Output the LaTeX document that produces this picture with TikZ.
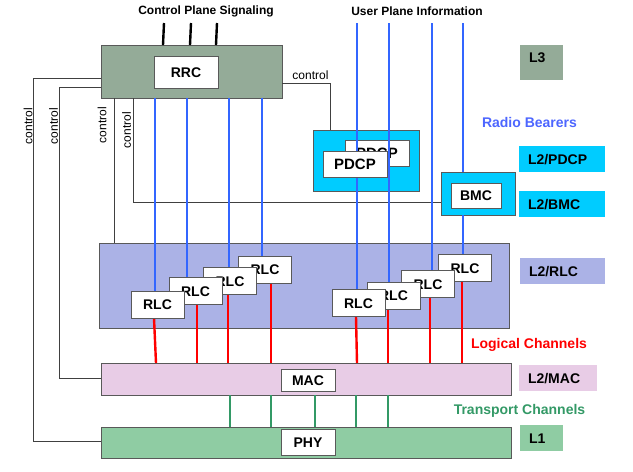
\documentclass[tikz,border=0pt]{standalone}
\usepackage{fontspec}
\setmainfont{Liberation Sans}
\definecolor{rrcg}{RGB}{148,171,152}
\definecolor{pcyan}{RGB}{0,204,255}
\definecolor{rlcc}{RGB}{171,178,230}
\definecolor{macc}{RGB}{232,204,230}
\definecolor{phyc}{RGB}{143,204,163}
\definecolor{ublue}{RGB}{51,102,255}
\definecolor{rbblue}{RGB}{77,102,255}
\definecolor{tgreen}{RGB}{51,153,102}
\definecolor{rred}{RGB}{255,0,0}
\pgfdeclarelayer{back}
\pgfdeclarelayer{mid}
\pgfsetlayers{back,mid,main}
\begin{document}
\begin{tikzpicture}[x=1pt,y=-1pt,
  obox/.style={draw=black!65, line width=0.9pt, inner sep=0pt, outer sep=0pt},
  wbox/.style={obox, fill=white, font=\bfseries\fontsize{14}{14}\selectfont, text height=10pt, text depth=0pt},
  rlcbox/.style={wbox, minimum width=53pt, minimum height=27pt},
  lbox/.style={inner xsep=9pt, inner ysep=0pt, outer sep=0pt, align=left, font=\bfseries\fontsize{14}{14}\selectfont, text height=10pt, text depth=0pt},
  hdr/.style={inner sep=0pt, font=\bfseries\fontsize{12}{12}\selectfont},
  bigtxt/.style={inner sep=0pt, font=\bfseries\fontsize{14}{14}\selectfont},
  ctl/.style={inner sep=0pt, font=\fontsize{12}{12}\selectfont},
  cline/.style={draw=black!75, line width=0.9pt},
  bline/.style={draw=ublue, line width=2.4pt},
  rline/.style={draw=rred, line width=2.4pt},
  gline/.style={draw=tgreen, line width=2pt},
  kline/.style={draw=black, line width=2.4pt}
]
\path[use as bounding box] (0,0) rectangle (633,472);

% ---------- outer boxes ----------
\begin{pgfonlayer}{back}
\node[obox, fill=rrcg, minimum width=181pt, minimum height=53pt] (rrc) at (191.5,71.5) {};
\node[obox, fill=pcyan, minimum width=106pt, minimum height=61pt] (pdcpo) at (366,160.5) {};
\node[wbox, minimum width=64pt, minimum height=26pt, font=\bfseries\fontsize{15}{15}\selectfont] (pdcpb) at (377,153) {PDCP};
\node[obox, fill=pcyan, minimum width=74pt, minimum height=43pt] (bmco) at (478,193.5) {};
\node[obox, fill=rlcc, minimum width=410pt, minimum height=85pt] (rlco) at (304,285.5) {};
\node[obox, fill=macc, minimum width=410pt, minimum height=32pt] (maco) at (306,379) {};
\node[obox, fill=phyc, minimum width=410pt, minimum height=31pt] (phyo) at (306,442.5) {};

\node[lbox, fill=rrcg, text width=25pt, minimum height=35pt, text depth=10pt] (l3) at (541.5,62.5) {L3};
\node[lbox, fill=pcyan, text width=68pt, minimum height=26pt] (l2pdcp) at (562,159) {L2/PDCP};
\node[lbox, fill=pcyan, text width=68pt, minimum height=26pt] (l2bmc) at (562,204) {L2/BMC};
\node[lbox, fill=rlcc, text width=67pt, minimum height=26pt] (l2rlc) at (562.5,271) {L2/RLC};
\node[lbox, fill=macc, text width=60pt, minimum height=26pt] (l2mac) at (558,378) {L2/MAC};
\node[lbox, fill=phyc, text width=25pt, minimum height=26pt] (l1) at (541.5,438) {L1};
\end{pgfonlayer}

% ---------- inner boxes ----------
\node[wbox, minimum width=64pt, minimum height=32pt] (rrci) at (186,72) {RRC};
\node[wbox, minimum width=64pt, minimum height=26pt, font=\bfseries\fontsize{15}{15}\selectfont] (pdcpf) at (355,164) {PDCP};
\node[wbox, minimum width=50pt, minimum height=25pt] (bmci) at (476,195.5) {BMC};

\node[rlcbox] (rlcD) at (265,269.5) {RLC};
\node[rlcbox] (rlcC) at (230,281) {RLC};
\node[rlcbox] (rlcB) at (195.5,291) {RLC};
\node[rlcbox] (rlcA) at (157.5,304.5) {RLC};
\node[rlcbox] (rlcH) at (465,268) {RLC};
\node[rlcbox] (rlcG) at (428,284) {RLC};
\node[rlcbox] (rlcF) at (393.5,295.5) {RLC};
\node[rlcbox] (rlcE) at (358.5,303) {RLC};

\node[wbox, minimum width=54pt, minimum height=22pt] (maci) at (308,380) {MAC};
\node[wbox, minimum width=54pt, minimum height=26pt] (phyi) at (308,442) {PHY};

% ---------- texts ----------
\node[hdr] (cps) at (206,11) {Control Plane Signaling};
\node[hdr] (upi) at (417,11) {User Plane Information};
\node[bigtxt, text=rbblue] (rb) at (529.5,122) {Radio Bearers};
\node[bigtxt, text=rred] (lc) at (529,345) {Logical Channels};
\node[bigtxt, text=tgreen] (tc) at (519.5,411) {Transport Channels};
\node[ctl, rotate=90] (ct1) at (28,126) {control};
\node[ctl, rotate=90] (ct2) at (53.5,126) {control};
\node[ctl, rotate=90] (ct3) at (102,125) {control};
\node[ctl, rotate=90] (ct4) at (126.5,130) {control};
\node[ctl] (ct5) at (310.5,75) {control};

\coordinate (cp1) at (164,23);
\coordinate (cp2) at (191,23);
\coordinate (cp3) at (217,23);
\coordinate (u1) at (357,23);
\coordinate (u2) at (389,23);
\coordinate (u3) at (432,23);
\coordinate (u4) at (463,23);

% ---------- connectors ----------
\begin{pgfonlayer}{mid}
\draw[cline] (rrc.west |- 0,78) -- (33,78) -- (33,441) -- (phyo.west |- 0,441);
\draw[cline] (rrc.west |- 0,87) -- (59,87) -- (59,378) -- (maco.west |- 0,378);
\draw[cline] (114,0 |- rrc.south) -- (114,0 |- rlco.north);
\draw[cline] (133,0 |- rrc.south) -- (133,202) -- (bmco.west |- 0,202);
\draw[cline] (rrc.east |- 0,83) -- (330,83) -- (330,0 |- pdcpo.north);

\draw[kline] (cp1) -- (163,0 |- rrc.north);
\draw[kline] (cp2) -- (190,0 |- rrc.north);
\draw[kline] (cp3) -- (216,0 |- rrc.north);

\draw[bline] (u1) -- (u1 |- rlcE.north);
\draw[bline] (u2) -- (u2 |- rlcF.north);
\draw[bline] (u3) -- (u3 |- rlcG.north);
\draw[bline] (u4) -- (u4 |- bmco.north);
\draw[bline] (u4 |- bmco.south) -- (u4 |- rlcH.north);
\draw[bline] (155,0 |- rrc.south) -- (155,0 |- rlcA.north);
\draw[bline] (187,0 |- rrc.south) -- (187,0 |- rlcB.north);
\draw[bline] (229,0 |- rrc.south) -- (229,0 |- rlcC.north);
\draw[bline] (262,0 |- rrc.south) -- (262,0 |- rlcD.north);

\draw[rline] (154,0 |- rlcA.south) -- (156,0 |- maco.north);
\draw[rline] (197,0 |- rlcB.south) -- (197,0 |- maco.north);
\draw[rline] (228,0 |- rlcC.south) -- (228,0 |- maco.north);
\draw[rline] (271,0 |- rlcD.south) -- (271,0 |- maco.north);
\draw[rline] (356,0 |- rlcE.south) -- (357,0 |- maco.north);
\draw[rline] (388,0 |- rlcF.south) -- (388,0 |- maco.north);
\draw[rline] (430,0 |- rlcG.south) -- (430,0 |- maco.north);
\draw[rline] (462,0 |- rlcH.south) -- (462,0 |- maco.north);

\draw[gline] (230,0 |- maco.south) -- (230,0 |- phyo.north);
\draw[gline] (271,0 |- maco.south) -- (271,0 |- phyo.north);
\draw[gline] (315,0 |- maco.south) -- (315,0 |- phyo.north);
\draw[gline] (356,0 |- maco.south) -- (356,0 |- phyo.north);
\draw[gline] (388,0 |- maco.south) -- (388,0 |- phyo.north);
\end{pgfonlayer}
\end{tikzpicture}
\end{document}
